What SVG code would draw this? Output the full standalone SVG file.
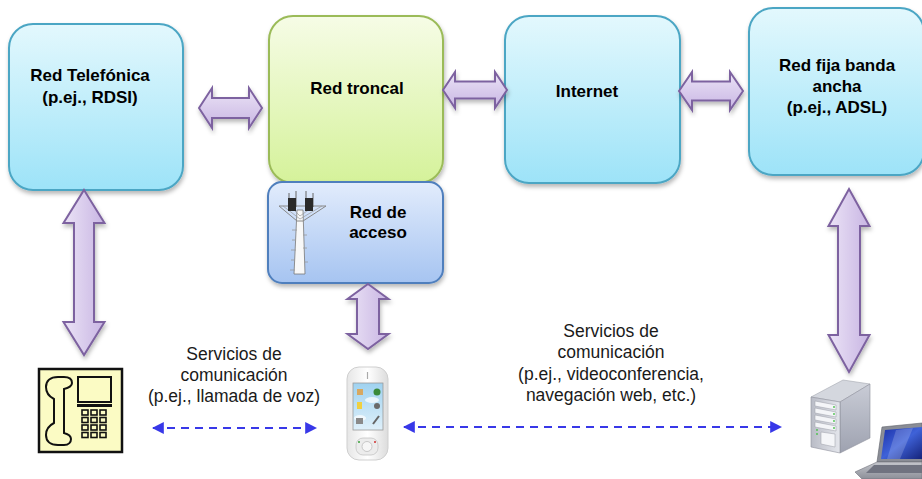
<svg xmlns="http://www.w3.org/2000/svg" width="922" height="479" viewBox="0 0 922 479">
  <defs>
    <linearGradient id="gBlue" x1="0" y1="0" x2="0" y2="1">
      <stop offset="0" stop-color="#e3f8fd"/>
      <stop offset="1" stop-color="#9de3f8"/>
    </linearGradient>
    <linearGradient id="gGreen" x1="0" y1="0" x2="0" y2="1">
      <stop offset="0" stop-color="#f6fce6"/>
      <stop offset="1" stop-color="#d5f29a"/>
    </linearGradient>
    <linearGradient id="gAccess" x1="0" y1="0" x2="0" y2="1">
      <stop offset="0" stop-color="#e2ecfc"/>
      <stop offset="1" stop-color="#a6c4f1"/>
    </linearGradient>
    <linearGradient id="gArrowH" x1="0" y1="0" x2="0" y2="1">
      <stop offset="0" stop-color="#ebe3f6"/>
      <stop offset="1" stop-color="#c8b5e3"/>
    </linearGradient>
    <linearGradient id="gArrowV" x1="0" y1="0" x2="1" y2="0">
      <stop offset="0" stop-color="#ebe3f6"/>
      <stop offset="1" stop-color="#c8b5e3"/>
    </linearGradient>
    <linearGradient id="gScreen" x1="0" y1="0" x2="0" y2="1">
      <stop offset="0" stop-color="#9fd2f0"/>
      <stop offset="1" stop-color="#dff0fa"/>
    </linearGradient>
    <linearGradient id="gPhoneBody" x1="0" y1="0" x2="1" y2="0">
      <stop offset="0" stop-color="#e6e6e6"/>
      <stop offset="0.5" stop-color="#ffffff"/>
      <stop offset="1" stop-color="#dcdcdc"/>
    </linearGradient>
    <linearGradient id="gSrvFront" x1="0" y1="0" x2="1" y2="0">
      <stop offset="0" stop-color="#b9bcc6"/>
      <stop offset="1" stop-color="#e4e6ec"/>
    </linearGradient>
    <linearGradient id="gSrvSide" x1="0" y1="0" x2="0" y2="1">
      <stop offset="0" stop-color="#c9ccd6"/>
      <stop offset="1" stop-color="#9ea2b0"/>
    </linearGradient>
    <linearGradient id="gLapScreen" x1="0" y1="0" x2="1" y2="1">
      <stop offset="0" stop-color="#1a2fa8"/>
      <stop offset="0.5" stop-color="#3f62d8"/>
      <stop offset="1" stop-color="#15237a"/>
    </linearGradient>
    <linearGradient id="gLapBase" x1="0" y1="0" x2="0" y2="1">
      <stop offset="0" stop-color="#c4c6cc"/>
      <stop offset="1" stop-color="#8c8f98"/>
    </linearGradient>
    <filter id="shadow" x="-15%" y="-15%" width="135%" height="135%">
      <feDropShadow dx="1" dy="3" stdDeviation="2" flood-color="#000" flood-opacity="0.28"/>
    </filter>
    <marker id="tip" viewBox="0 0 10 10" refX="9" refY="5" markerWidth="6" markerHeight="6" orient="auto-start-reverse" markerUnits="strokeWidth">
      <path d="M0,0 L10,5 L0,10 Z" fill="#3838e8"/>
    </marker>
    <style>
      .box { stroke-width: 2; filter: url(#shadow); }
      .blue { fill: url(#gBlue); stroke: #4ba6c4; }
      .green { fill: url(#gGreen); stroke: #9bbb59; }
      .access { fill: url(#gAccess); stroke: #4f7fbd; }
      .lbl { font-family: "Liberation Sans", Arial, sans-serif; font-size: 17px; font-weight: bold; fill: #000; text-anchor: middle; }
      .svc { font-family: "Liberation Sans", Arial, sans-serif; font-size: 17.5px; fill: #1a1a1a; text-anchor: middle; }
      .fat { stroke: #7d62a0; stroke-width: 2; stroke-linejoin: miter; filter: url(#shadow); }
      .fh { fill: url(#gArrowH); }
      .fv { fill: url(#gArrowV); }
      .dash { stroke: #3838e8; stroke-width: 2; stroke-dasharray: 8 6; fill: none; marker-start: url(#tip); marker-end: url(#tip); }
    </style>
  </defs>

  <rect width="922" height="479" fill="#ffffff"/>

  <!-- network blocks -->
  <g id="red-telefonica">
    <rect class="box blue" x="9" y="24" width="174" height="166" rx="24"/>
    <text class="lbl" x="90" y="81">Red Telefónica</text>
    <text class="lbl" x="90" y="103">(p.ej., RDSI)</text>
  </g>

  <g id="red-troncal">
    <rect class="box green" x="269" y="16" width="174" height="167" rx="24"/>
    <text class="lbl" x="357" y="94">Red troncal</text>
  </g>

  <g id="red-acceso">
    <rect class="box access" x="268" y="182" width="175" height="101" rx="14"/>
    <!-- lattice mast with antennas -->
    <g id="mast">
      <path d="M297,210 L303,210 L305,274 L294,274 Z" fill="#f8f8f8" stroke="#777" stroke-width="0.8"/>
      <path d="M279,206 L326,206 L303,221 L297,221 Z" fill="none" stroke="#888" stroke-width="1"/>
      <path d="M283,206 L300,219 M322,206 L300,219 M290,206 L300,216 M314,206 L300,216" stroke="#999" stroke-width="0.7"/>
      <path d="M289,193 L289,207 M296,191 L296,207 M306,191 L306,207 M313,193 L313,207" stroke="#666" stroke-width="1"/>
      <rect x="288" y="198" width="8" height="13" fill="#2a2a2a"/>
      <rect x="305" y="198" width="8" height="13" fill="#2a2a2a"/>
      <path d="M292,230 L297,230 M292,240 L296,240 M291,250 L296,250 M291,260 L295,260 M290,270 L295,270 M303,235 L307,235 M303,248 L307,248 M304,262 L308,262" stroke="#9a9a9a" stroke-width="0.8"/>
    </g>
    <text class="lbl" x="378" y="218">Red de</text>
    <text class="lbl" x="378" y="238">acceso</text>
  </g>

  <g id="internet">
    <rect class="box blue" x="505" y="16" width="175" height="167" rx="24"/>
    <text class="lbl" x="587" y="97">Internet</text>
  </g>

  <g id="red-fija">
    <rect class="box blue" x="749" y="8" width="175" height="167" rx="24"/>
    <text class="lbl" x="837" y="71">Red fija banda</text>
    <text class="lbl" x="837" y="92">ancha</text>
    <text class="lbl" x="837" y="113">(p.ej., ADSL)</text>
  </g>

  <!-- terminals -->
  <g id="telefono-fijo">
    <rect x="39" y="369" width="83" height="83" fill="#fbfbc4" stroke="#111" stroke-width="2.5"/>
    <path d="M58,377 C50,377 46,381 46,387 C46,393 50,397 54,399 L54,423 C50,425 46,429 46,435 C46,441 50,445 58,445 L64,445 C69,445 71,442 71,439 C71,436 68,434 64,433 L64,389 C68,388 72,386 72,383 C72,379 69,377 64,377 Z" fill="none" stroke="#111" stroke-width="2"/>
    <rect x="78" y="377" width="33" height="25" fill="#fbfbc4" stroke="#111" stroke-width="2"/>
    <rect x="77" y="404" width="35" height="3" fill="#111"/>
    <g fill="#fbfbc4" stroke="#111" stroke-width="1.6">
      <rect x="82" y="410" width="6" height="5"/><rect x="91" y="410" width="6" height="5"/><rect x="100" y="410" width="6" height="5"/>
      <rect x="82" y="417.5" width="6" height="5"/><rect x="91" y="417.5" width="6" height="5"/><rect x="100" y="417.5" width="6" height="5"/>
      <rect x="82" y="425" width="6" height="5"/><rect x="91" y="425" width="6" height="5"/><rect x="100" y="425" width="6" height="5"/>
      <rect x="82" y="432.5" width="6" height="5"/><rect x="91" y="432.5" width="6" height="5"/><rect x="100" y="432.5" width="6" height="5"/>
    </g>
  </g>

  <g id="movil">
    <rect x="347" y="367" width="41" height="93" rx="12" fill="url(#gPhoneBody)" stroke="#cfcfcf" stroke-width="1"/>
    <line x1="367.5" y1="372" x2="367.5" y2="379" stroke="#aaa" stroke-width="1.2"/>
    <rect x="353" y="383" width="30" height="47" fill="url(#gScreen)" stroke="#9a9a9a" stroke-width="0.8"/>
    <ellipse cx="372" cy="400" rx="7" ry="3" fill="#ffffff" opacity="0.7"/>
    <ellipse cx="360" cy="418" rx="6" ry="3" fill="#ffffff" opacity="0.7"/>
    <rect x="357" y="389" width="6" height="6" fill="#d8a860"/>
    <circle cx="377" cy="392" r="3.5" fill="#3a8a3a"/>
    <rect x="357" y="402" width="5" height="7" fill="#f0d040"/>
    <circle cx="377" cy="406" r="3" fill="#6a6a6a"/>
    <rect x="356" y="418" width="7" height="6" fill="#8a8a8a"/>
    <path d="M373,424 L379,416" stroke="#666" stroke-width="2"/>
    <rect x="356" y="438" width="22" height="17" rx="7" fill="#ececec" stroke="#c4c4c4" stroke-width="0.8"/>
    <circle cx="367" cy="446.5" r="5" fill="#f6f6f6" stroke="#bdbdbd" stroke-width="0.8"/>
    <circle cx="359" cy="442" r="1" fill="#3aa03a"/>
    <circle cx="375" cy="442" r="1" fill="#d03030"/>
  </g>

  <g id="servidor-portatil">
    <path d="M811,397 L843,380 L870,384 L840,402 Z" fill="#d4d7de" stroke="#a4a7b0" stroke-width="0.6"/>
    <path d="M840,402 L870,384 L870,438 L840,453 Z" fill="url(#gSrvSide)" stroke="#8e919c" stroke-width="0.6"/>
    <path d="M811,397 L840,402 L840,453 L811,447 Z" fill="url(#gSrvFront)" stroke="#8e919c" stroke-width="0.6"/>
    <g fill="#f4f5f8" stroke="#9a9da6" stroke-width="0.5">
      <path d="M815,401 L836,405 L836,410 L815,406 Z"/>
      <path d="M815,408 L836,412 L836,417 L815,413 Z"/>
      <path d="M815,415 L836,419 L836,424 L815,420 Z"/>
      <path d="M815,422 L836,426 L836,431 L815,427 Z"/>
      <path d="M821,432 L835,434 L835,447 L821,444 Z"/>
    </g>
    <g fill="#48c048">
      <circle cx="834" cy="407" r="0.9"/><circle cx="834" cy="414" r="0.9"/><circle cx="834" cy="421" r="0.9"/><circle cx="834" cy="428" r="0.9"/>
      <circle cx="817" cy="430" r="0.9"/><circle cx="817" cy="434" r="0.9"/>
    </g>
    <!-- laptop -->
    <path d="M882,427 L922,423 L922,462 L877,462 Z" fill="#8a8d96" stroke="#5e616a" stroke-width="0.6"/>
    <path d="M885,430 L922,427 L922,459 L881,459 Z" fill="url(#gLapScreen)"/>
    <path d="M896,430 L913,428 L900,459 L887,459 Z" fill="#ffffff" opacity="0.18"/>
    <path d="M877,462 L922,462 L922,479 L862,479 L855,472 Z" fill="url(#gLapBase)" stroke="#6e717a" stroke-width="0.6"/>
    <path d="M874,465 L922,465 L922,473 L866,473 Z" fill="#707380"/>
  </g>

  <!-- service labels -->
  <g id="servicio-voz">
    <text class="svc" x="234" y="360">Servicios de</text>
    <text class="svc" x="234" y="381">comunicación</text>
    <text class="svc" x="234" y="402">(p.ej., llamada de voz)</text>
  </g>
  <g id="servicio-datos">
    <text class="svc" x="611" y="337">Servicios de</text>
    <text class="svc" x="611" y="358">comunicación</text>
    <text class="svc" x="611" y="380">(p.ej., videoconferencia,</text>
    <text class="svc" x="611" y="401">navegación web, etc.)</text>
  </g>

  <!-- connectors -->
  <g id="connectors">
    <path class="fat fh" d="M199,108 L212,88 L212,98 L249,98 L249,88 L262,108 L249,128 L249,118 L212,118 L212,128 Z"/>
    <path class="fat fh" d="M443,90 L455,72 L455,81.5 L495,81.5 L495,72 L507,90 L495,108 L495,98.5 L455,98.5 L455,108 Z"/>
    <path class="fat fh" d="M679,91 L692,72 L692,81.5 L730,81.5 L730,72 L743,91 L730,110 L730,100.5 L692,100.5 L692,110 Z"/>
    <path class="fat fv" d="M84,190 L104.5,223 L94,223 L94,322 L104.5,322 L84,355 L63.5,322 L74,322 L74,223 L63.5,223 Z"/>
    <path class="fat fv" d="M368,284 L388.5,299 L379,299 L379,334 L388.5,334 L368,349 L347.5,334 L357,334 L357,299 L347.5,299 Z"/>
    <path class="fat fv" d="M849,189 L869.5,226 L860,226 L860,335 L869.5,335 L849,372 L828.5,335 L838,335 L838,226 L828.5,226 Z"/>
    <line class="dash" x1="153" y1="428" x2="316" y2="428"/>
    <line class="dash" x1="404" y1="427" x2="781" y2="427"/>
  </g>
</svg>
